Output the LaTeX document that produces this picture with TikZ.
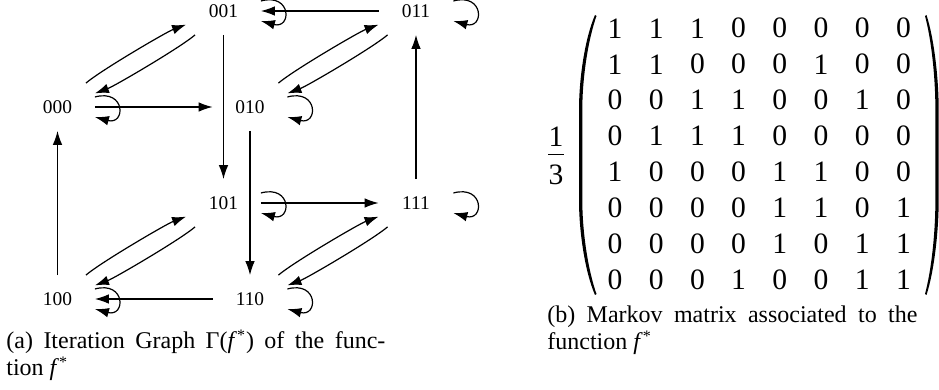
\documentclass[tikz,border=0pt]{standalone}
\usepackage{fontspec}
\setmainfont{Liberation Serif}
\usetikzlibrary{arrows.meta}

\begin{document}
\begin{tikzpicture}[x=0.5pt,y=-0.5pt,
  state/.style={rectangle, inner sep=0pt, minimum width=37pt, minimum height=23.5pt,
                font=\fontsize{9.7}{11}\selectfont},
  trans/.style={line width=0.6pt, -{Latex[length=7pt,width=4.8pt]}},
  cyc/.style={bend left=10, looseness=0.45},
  entry/.style={inner sep=0pt, font=\fontsize{14.8}{17}\selectfont},
  caption/.style={anchor=base west, inner sep=0pt, font=\fontsize{12}{14}\selectfont},
  paren/.style={fill=black, draw=none}
]
\useasboundingbox (0,0) rectangle (939,390);

% ---- states of the iteration graph (a cube) ----
\node[state] (s000) at (57.5,107) {000};
\node[state] (s010) at (250,107)  {010};
\node[state] (s100) at (57.5,299) {100};
\node[state] (s110) at (250,299)  {110};
\node[state] (s001) at (223.5,11) {001};
\node[state] (s011) at (416,11)   {011};
\node[state] (s101) at (223.5,203){101};
\node[state] (s111) at (416,203)  {111};

% ---- transitions ----
\draw[trans] (s000) to[cyc] (s001);
\draw[trans] (s001) to[cyc] (s000);
\draw[trans] (s010) to[cyc] (s011);
\draw[trans] (s011) to[cyc] (s010);
\draw[trans] (s100) to[cyc] (s101);
\draw[trans] (s101) to[cyc] (s100);
\draw[trans] (s110) to[cyc] (s111);
\draw[trans] (s111) to[cyc] (s110);

\draw[trans] (s000) -- (s010);
\draw[trans] (s011) -- (s001);
\draw[trans] (s101) -- (s111);
\draw[trans] (s110) -- (s100);
\draw[trans] (s001) -- (s101);
\draw[trans] (s010) -- (s110);
\draw[trans] (s100) -- (s000);
\draw[trans] (s111) -- (s011);

% self loops on the right of every state
\foreach \s in {000,001,010,011,100,101,110,111}
  \draw[trans] (s\s.15) .. controls +(15:16pt) and +(-15:16pt) .. (s\s.-15);

% ---- captions of the graph ----
\node[caption] (capA1) at (6,349)
  {\makebox[189.5pt][s]{(a) Iteration Graph Γ(\textit{f}\textsuperscript{*}) of the func-}};
\node[caption] (capA2) at (6,376) {tion \textit{f}\textsuperscript{*}};

% ---- Markov matrix ----
\foreach [count=\i] \rowvals in {{1,1,1,0,0,0,0,0},{1,1,0,0,0,1,0,0},
    {0,0,1,1,0,0,1,0},{0,1,1,1,0,0,0,0},{1,0,0,0,1,1,0,0},
    {0,0,0,0,1,1,0,1},{0,0,0,0,1,0,1,1},{0,0,0,1,0,0,1,1}} {
  \foreach [count=\j] \v in \rowvals {
    \node[entry] (m\i\j) at ({615+41.2*(\j-1)},{28.3+35.95*(\i-1)}) {\v};
  }
}

% factor 1/3
\node[entry] (num) at (556,137) {1};
\node[entry] (den) at (556,175) {3};
\draw[line width=0.7pt] (548,154.3) -- (564,154.3);

% left parenthesis
\fill[paren] (595,15) .. controls (585,38) and (579,78) .. (579,110)
  -- (579,200) .. controls (579,232) and (585,272) .. (595,295)
  -- (596.5,294) .. controls (588,270) and (582.3,232) .. (582.3,200)
  -- (582.3,110) .. controls (582.3,78) and (588,40) .. (596.5,16) -- cycle;

% right parenthesis
\fill[paren] (926.5,15) .. controls (934,38) and (938.7,78) .. (938.7,110)
  -- (938.7,200) .. controls (938.7,232) and (934,272) .. (926.5,295)
  -- (925,294) .. controls (931.5,270) and (935.4,232) .. (935.4,200)
  -- (935.4,110) .. controls (935.4,78) and (931.5,40) .. (925,16) -- cycle;

% ---- captions of the matrix ----
\node[caption] (capB1) at (547,323)
  {\makebox[185pt][s]{(b) Markov matrix associated to the}};
\node[caption] (capB2) at (547,350) {function \textit{f}\textsuperscript{*}};
\end{tikzpicture}
\end{document}
